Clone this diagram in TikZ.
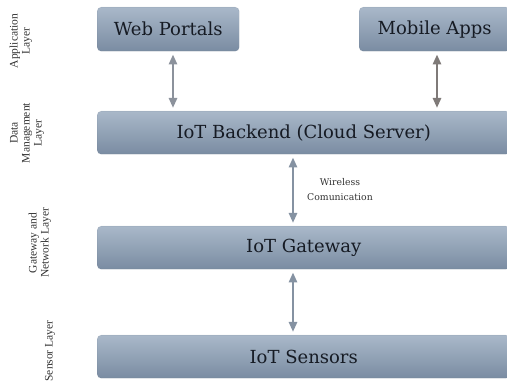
\documentclass[tikz,border=0pt]{standalone}
\usepackage{fontspec}
\setmainfont{DejaVu Serif}
\newfontfamily\sidefont{Liberation Serif}
\usetikzlibrary{arrows.meta}
\definecolor{boxtop}{HTML}{A9B8C9}
\definecolor{boxbot}{HTML}{7A8CA2}
\definecolor{boxtxt}{HTML}{161B24}
\definecolor{arrA}{HTML}{8C929C}
\definecolor{arrB}{HTML}{7F7A78}
\definecolor{arrC}{HTML}{8592A2}
\definecolor{lbl}{HTML}{333333}
\tikzset{
  layerbox/.style={rectangle, rounded corners=4pt, top color=boxtop, bottom color=boxbot,
    draw=boxbot!80!black, draw opacity=0.25, text=boxtxt, font=\fontsize{18}{20}\selectfont,
    inner sep=0pt, anchor=north west},
  biarrow/.style={line width=2.6pt, {Triangle[width=8pt,length=10pt]}-{Triangle[width=8pt,length=10pt]}},
  sidelabel/.style={rotate=90, align=center, text=lbl, font=\sidefont\fontsize{11.5}{12}\selectfont},
  smalllabel/.style={align=center, text=lbl, font=\fontsize{9.3}{15}\selectfont}
}
\begin{document}
\begin{tikzpicture}[x=1pt,y=-1pt]
\useasboundingbox (0,0) rectangle (507,387);
\clip (0,0) rectangle (507,387);
\node[layerbox, minimum width=142pt, minimum height=44pt] (web) at (97,7) {Web Portals};
\node[layerbox, minimum width=151pt, minimum height=44pt] (mob) at (359,7) {Mobile Apps};
\node[layerbox, minimum width=413pt, minimum height=43pt] (back) at (97,111) {IoT Backend (Cloud Server)};
\node[layerbox, minimum width=413pt, minimum height=43pt] (gate) at (97,226) {IoT Gateway};
\node[layerbox, minimum width=413pt, minimum height=43pt] (sens) at (97,335) {IoT Sensors};

\coordinate (xa) at (173,0);
\coordinate (xb) at (437,0);
\coordinate (xc) at (293,0);
\draw[biarrow, arrA, shorten <=3pt, shorten >=3pt] (web.south -| xa) -- (back.north -| xa);
\draw[biarrow, arrB, shorten <=3pt, shorten >=3pt] (mob.south -| xb) -- (back.north -| xb);
\draw[biarrow, arrC, shorten <=3pt, shorten >=3pt] (back.south -| xc) -- (gate.north -| xc);
\draw[biarrow, arrC, shorten <=3pt, shorten >=3pt] (gate.south -| xc) -- (sens.north -| xc);

\node[smalllabel] (wl) at (340,190) {Wireless\\Comunication};

\node[sidelabel] (l1) at (21,41) {Application\\Layer};
\node[sidelabel] (l2) at (27,133) {Data\\Management\\Layer};
\node[sidelabel] (l3) at (40,243) {Gateway and\\Network Layer};
\node[sidelabel] (l4) at (50,351) {Sensor Layer};
\end{tikzpicture}
\end{document}
